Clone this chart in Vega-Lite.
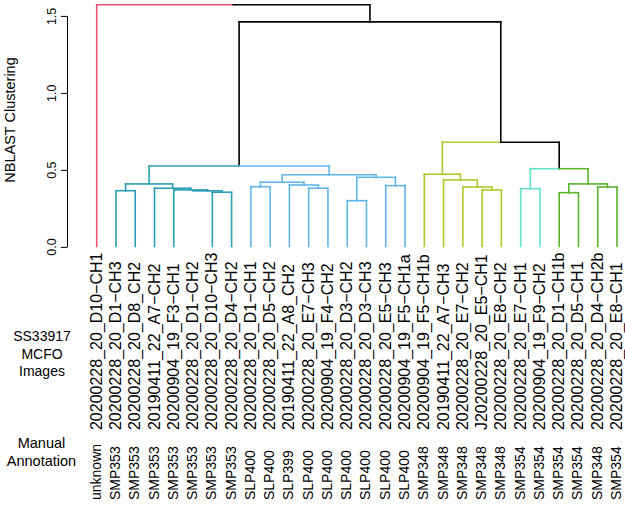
{
  "$schema": "https://vega.github.io/schema/vega-lite/v6.json",
  "width": 558,
  "height": 230.6,
  "autosize": {"type": "none"},
  "padding": {"left": 67, "right": 0, "top": 15.9, "bottom": 260.5},
  "background": "white",
  "config": {"view": {"stroke": null}, "font": "Liberation Sans"},
  "datasets": {
    "edges": [
      {"id": "L1", "cx": 1, "ch": 0, "px": 8.08984, "ph": 1.573, "k": "unknown"},
      {"id": "L2", "cx": 2, "ch": 0, "px": 2.5, "ph": 0.363, "k": "SMP353"},
      {"id": "L3", "cx": 3, "ch": 0, "px": 2.5, "ph": 0.363, "k": "SMP353"},
      {"id": "L4", "cx": 4, "ch": 0, "px": 4.9375, "ph": 0.379, "k": "SMP353"},
      {"id": "L5", "cx": 5, "ch": 0, "px": 5.875, "ph": 0.368, "k": "SMP353"},
      {"id": "L6", "cx": 6, "ch": 0, "px": 6.75, "ph": 0.362, "k": "SMP353"},
      {"id": "L7", "cx": 7, "ch": 0, "px": 7.5, "ph": 0.353, "k": "SMP353"},
      {"id": "L8", "cx": 8, "ch": 0, "px": 7.5, "ph": 0.353, "k": "SMP353"},
      {"id": "N23", "cx": 2.5, "ch": 0.363, "px": 3.71875, "ph": 0.407, "k": "SMP353"},
      {"id": "T5", "cx": 7.5, "ch": 0.353, "px": 6.75, "ph": 0.362, "k": "SMP353"},
      {"id": "T4", "cx": 6.75, "ch": 0.362, "px": 5.875, "ph": 0.368, "k": "SMP353"},
      {"id": "T3", "cx": 5.875, "ch": 0.368, "px": 4.9375, "ph": 0.379, "k": "SMP353"},
      {"id": "T2", "cx": 4.9375, "ch": 0.379, "px": 3.71875, "ph": 0.407, "k": "SMP353"},
      {"id": "T1", "cx": 3.71875, "ch": 0.407, "px": 8.390625, "ph": 0.524, "k": "SMP353"},
      {"id": "L9", "cx": 9, "ch": 0, "px": 9.5, "ph": 0.389, "k": "SLP400"},
      {"id": "L10", "cx": 10, "ch": 0, "px": 9.5, "ph": 0.389, "k": "SLP400"},
      {"id": "L11", "cx": 11, "ch": 0, "px": 11.75, "ph": 0.4, "k": "SLP400"},
      {"id": "L12", "cx": 12, "ch": 0, "px": 12.5, "ph": 0.379, "k": "SLP400"},
      {"id": "L13", "cx": 13, "ch": 0, "px": 12.5, "ph": 0.379, "k": "SLP400"},
      {"id": "L14", "cx": 14, "ch": 0, "px": 14.5, "ph": 0.298, "k": "SLP400"},
      {"id": "L15", "cx": 15, "ch": 0, "px": 14.5, "ph": 0.298, "k": "SLP400"},
      {"id": "L16", "cx": 16, "ch": 0, "px": 16.5, "ph": 0.396, "k": "SLP400"},
      {"id": "L17", "cx": 17, "ch": 0, "px": 16.5, "ph": 0.396, "k": "SLP400"},
      {"id": "B910", "cx": 9.5, "ch": 0.389, "px": 10.625, "ph": 0.418, "k": "SLP400"},
      {"id": "B4", "cx": 12.5, "ch": 0.379, "px": 11.75, "ph": 0.4, "k": "SLP400"},
      {"id": "B3", "cx": 11.75, "ch": 0.4, "px": 10.625, "ph": 0.418, "k": "SLP400"},
      {"id": "B2", "cx": 10.625, "ch": 0.418, "px": 13.0625, "ph": 0.467, "k": "SLP400"},
      {"id": "B1415", "cx": 14.5, "ch": 0.298, "px": 15.5, "ph": 0.45, "k": "SLP400"},
      {"id": "B1617", "cx": 16.5, "ch": 0.396, "px": 15.5, "ph": 0.45, "k": "SLP400"},
      {"id": "B5", "cx": 15.5, "ch": 0.45, "px": 13.0625, "ph": 0.467, "k": "SLP400"},
      {"id": "B1", "cx": 13.0625, "ch": 0.467, "px": 8.390625, "ph": 0.524, "k": "SLP400"},
      {"id": "NL", "cx": 8.390625, "ch": 0.524, "px": 15.1796875, "ph": 1.461, "k": "none"},
      {"id": "L18", "cx": 18, "ch": 0, "px": 18.9375, "ph": 0.47, "k": "SMP348"},
      {"id": "L19", "cx": 19, "ch": 0, "px": 19.875, "ph": 0.433, "k": "SMP348"},
      {"id": "L20", "cx": 20, "ch": 0, "px": 20.75, "ph": 0.387, "k": "SMP348"},
      {"id": "L21", "cx": 21, "ch": 0, "px": 21.5, "ph": 0.368, "k": "SMP348"},
      {"id": "L22", "cx": 22, "ch": 0, "px": 21.5, "ph": 0.368, "k": "SMP348"},
      {"id": "G4", "cx": 21.5, "ch": 0.368, "px": 20.75, "ph": 0.387, "k": "SMP348"},
      {"id": "G3", "cx": 20.75, "ch": 0.387, "px": 19.875, "ph": 0.433, "k": "SMP348"},
      {"id": "G2", "cx": 19.875, "ch": 0.433, "px": 18.9375, "ph": 0.47, "k": "SMP348"},
      {"id": "G1", "cx": 18.9375, "ch": 0.47, "px": 21.96875, "ph": 0.678, "k": "SMP348"},
      {"id": "L23", "cx": 23, "ch": 0, "px": 23.5, "ph": 0.376, "k": "SMP354a"},
      {"id": "L24", "cx": 24, "ch": 0, "px": 23.5, "ph": 0.376, "k": "SMP354a"},
      {"id": "A2324", "cx": 23.5, "ch": 0.376, "px": 25, "ph": 0.506, "k": "SMP354a"},
      {"id": "L25", "cx": 25, "ch": 0, "px": 25.5, "ph": 0.35, "k": "SMP354b"},
      {"id": "L26", "cx": 26, "ch": 0, "px": 25.5, "ph": 0.35, "k": "SMP354b"},
      {"id": "L27", "cx": 27, "ch": 0, "px": 27.5, "ph": 0.387, "k": "SMP354b"},
      {"id": "L28", "cx": 28, "ch": 0, "px": 27.5, "ph": 0.387, "k": "SMP354b"},
      {"id": "G2526", "cx": 25.5, "ch": 0.35, "px": 26.5, "ph": 0.407, "k": "SMP354b"},
      {"id": "G2728", "cx": 27.5, "ch": 0.387, "px": 26.5, "ph": 0.407, "k": "SMP354b"},
      {"id": "G6", "cx": 26.5, "ch": 0.407, "px": 25, "ph": 0.506, "k": "SMP354b"},
      {"id": "G5", "cx": 25, "ch": 0.506, "px": 21.96875, "ph": 0.678, "k": "none"},
      {"id": "NR", "cx": 21.96875, "ch": 0.678, "px": 15.1796875, "ph": 1.461, "k": "none"},
      {"id": "NA", "cx": 15.1796875, "ch": 1.461, "px": 8.08984, "ph": 1.573, "k": "none"}
    ],
    "leaves": [
      {"i": 1, "name": "20200228_20_D10−CH1", "annot": "unknown"},
      {"i": 2, "name": "20200228_20_D1−CH3", "annot": "SMP353"},
      {"i": 3, "name": "20200228_20_D8_CH2", "annot": "SMP353"},
      {"i": 4, "name": "20190411_22_A7−CH2", "annot": "SMP353"},
      {"i": 5, "name": "20200904_19_F3−CH1", "annot": "SMP353"},
      {"i": 6, "name": "20200228_20_D1−CH2", "annot": "SMP353"},
      {"i": 7, "name": "20200228_20_D10−CH3", "annot": "SMP353"},
      {"i": 8, "name": "20200228_20_D4−CH2", "annot": "SMP353"},
      {"i": 9, "name": "20200228_20_D1−CH1", "annot": "SLP400"},
      {"i": 10, "name": "20200228_20_D5−CH2", "annot": "SLP400"},
      {"i": 11, "name": "20190411_22_A8_CH2", "annot": "SLP399"},
      {"i": 12, "name": "20200228_20_E7−CH3", "annot": "SLP400"},
      {"i": 13, "name": "20200904_19_F4−CH2", "annot": "SLP400"},
      {"i": 14, "name": "20200228_20_D3−CH2", "annot": "SLP400"},
      {"i": 15, "name": "20200228_20_D3−CH3", "annot": "SLP400"},
      {"i": 16, "name": "20200228_20_E5−CH3", "annot": "SLP400"},
      {"i": 17, "name": "20200904_19_F5−CH1a", "annot": "SLP400"},
      {"i": 18, "name": "20200904_19_F5−CH1b", "annot": "SMP348"},
      {"i": 19, "name": "20190411_22_A7−CH3", "annot": "SMP348"},
      {"i": 20, "name": "20200228_20_E7−CH2", "annot": "SMP348"},
      {"i": 21, "name": "J20200228_20_E5−CH1", "annot": "SMP348"},
      {"i": 22, "name": "20200228_20_E8−CH2", "annot": "SMP348"},
      {"i": 23, "name": "20200228_20_E7−CH1", "annot": "SMP354"},
      {"i": 24, "name": "20200904_19_F9−CH2", "annot": "SMP354"},
      {"i": 25, "name": "20200228_20_D1−CH1b", "annot": "SMP354"},
      {"i": 26, "name": "20200228_20_D5−CH1", "annot": "SMP354"},
      {"i": 27, "name": "20200228_20_D4−CH2b", "annot": "SMP348"},
      {"i": 28, "name": "20200228_20_E8−CH1", "annot": "SMP354"}
    ],
    "headers": [
      {"row": "names", "label": "SS33917\nMCFO\nImages"},
      {"row": "annot", "label": "Manual\nAnnotation"}
    ]
  },
  "layer": [
    {
      "data": {"name": "edges"},
      "transform": [{"filter": "datum.id != 'L6'"}],
      "mark": {"type": "rule", "strokeWidth": 1.6, "strokeCap": "square"},
      "encoding": {
        "x": {"field": "cx", "type": "quantitative", "scale": {"domain": [-0.541, 28.415], "nice": false, "zero": false}, "axis": null},
        "y": {"field": "ch", "type": "quantitative", "scale": {"domain": [0, 1.5], "nice": false, "zero": false},
          "axis": {
            "title": "NBLAST Clustering", "values": [0, 0.5, 1, 1.5], "format": ".1f",
            "grid": false, "tickSize": 6.5, "tickColor": "black", "domainColor": "black", "domainWidth": 1, "tickWidth": 1,
            "labelAngle": 270, "labelAlign": "center", "labelBaseline": "bottom", "labelPadding": 2,
            "labelFontSize": 12.5, "labelColor": "black", "labelFont": "Liberation Sans",
            "titleFontSize": 14.5, "titleFontWeight": "normal", "titleColor": "black", "titleFont": "Liberation Sans",
            "titleAngle": 270, "titleAlign": "center", "titleBaseline": "bottom", "titleX": -50, "titleY": 103.6
          }},
        "y2": {"field": "ph"},
        "color": {"field": "k", "type": "nominal", "legend": null,
          "scale": {"domain": ["unknown", "SMP353", "SLP400", "SMP348", "SMP354a", "SMP354b", "none"],
                    "range": ["#EE5273", "#2A9FB5", "#62B6EA", "#A9CB2A", "#5FE3CB", "#5BB22C", "#000000"]}}
      }
    },
    {
      "data": {"name": "edges"},
      "mark": {"type": "rule", "strokeWidth": 1.6, "strokeCap": "square"},
      "encoding": {
        "x": {"field": "cx", "type": "quantitative"},
        "x2": {"field": "px"},
        "y": {"field": "ph", "type": "quantitative"},
        "color": {"field": "k", "type": "nominal", "legend": null}
      }
    },
    {
      "data": {"name": "leaves"},
      "mark": {"type": "text", "angle": 270, "align": "left", "baseline": "middle", "fontSize": 16, "font": "Liberation Sans", "color": "black"},
      "encoding": {
        "x": {"field": "i", "type": "quantitative"},
        "y": {"datum": -1.194},
        "text": {"field": "name"}
      }
    },
    {
      "data": {"name": "leaves"},
      "mark": {"type": "text", "angle": 270, "align": "left", "baseline": "middle", "fontSize": 14, "font": "Liberation Sans", "color": "black"},
      "encoding": {
        "x": {"field": "i", "type": "quantitative"},
        "y": {"datum": -1.649},
        "text": {"field": "annot"}
      }
    },
    {
      "data": {"name": "headers"},
      "transform": [{"filter": "datum.row == 'names'"}],
      "mark": {"type": "text", "align": "center", "baseline": "middle", "fontSize": 14, "lineHeight": 17.5, "lineBreak": "\n", "font": "Liberation Sans", "color": "black"},
      "encoding": {
        "x": {"datum": -1.839},
        "y": {"datum": -0.589},
        "text": {"field": "label"}
      }
    },
    {
      "data": {"name": "headers"},
      "transform": [{"filter": "datum.row == 'annot'"}],
      "mark": {"type": "text", "align": "center", "baseline": "middle", "fontSize": 14.5, "lineHeight": 18, "lineBreak": "\n", "font": "Liberation Sans", "color": "black"},
      "encoding": {
        "x": {"datum": -1.865},
        "y": {"datum": -1.285},
        "text": {"field": "label"}
      }
    }
  ]
}
